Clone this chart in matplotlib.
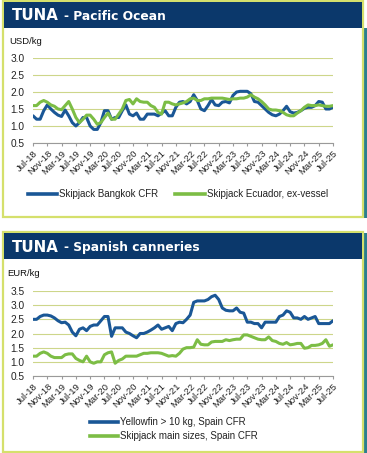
import matplotlib
matplotlib.use('Agg')

import matplotlib.pyplot as plt
from matplotlib.patches import Rectangle
import numpy as np

W, H = 367, 453

# monthly, Jul-18 .. Jul-25
tick_labels = ['Jul-18', 'Nov-18', 'Mar-19', 'Jul-19', 'Nov-19', 'Mar-20', 'Jul-20',
               'Nov-20', 'Mar-21', 'Jul-21', 'Nov-21', 'Mar-22', 'Jul-22', 'Nov-22',
               'Mar-23', 'Jul-23', 'Nov-23', 'Mar-24', 'Jul-24', 'Nov-24', 'Mar-25', 'Jul-25']

skj_bangkok = [1.30, 1.20, 1.20, 1.45, 1.62, 1.50, 1.40, 1.32, 1.28, 1.47, 1.30, 1.10,
               1.00, 1.10, 1.25, 1.25, 1.00, 0.90, 0.90, 1.10, 1.45, 1.45, 1.20, 1.25,
               1.25, 1.45, 1.62, 1.35, 1.30, 1.38, 1.20, 1.20, 1.35, 1.35, 1.35, 1.30,
               1.38, 1.45, 1.30, 1.30, 1.55, 1.70, 1.72, 1.65, 1.72, 1.92, 1.75, 1.50,
               1.45, 1.60, 1.78, 1.62, 1.60, 1.70, 1.72, 1.68, 1.90, 2.00, 2.02, 2.02,
               2.02, 1.95, 1.72, 1.70, 1.60, 1.50, 1.40, 1.33, 1.30, 1.35, 1.45, 1.58,
               1.42, 1.38, 1.40, 1.45, 1.52, 1.55, 1.55, 1.60, 1.72, 1.70, 1.50, 1.50,
               1.55]
skj_ecuador = [1.60, 1.60, 1.70, 1.75, 1.70, 1.62, 1.58, 1.50, 1.48, 1.60, 1.72, 1.50,
               1.25, 1.10, 1.20, 1.32, 1.32, 1.20, 1.05, 1.10, 1.25, 1.38, 1.20, 1.20,
               1.35, 1.50, 1.75, 1.78, 1.65, 1.80, 1.72, 1.70, 1.70, 1.60, 1.55, 1.40,
               1.35, 1.70, 1.70, 1.65, 1.62, 1.65, 1.68, 1.72, 1.80, 1.82, 1.75, 1.75,
               1.80, 1.80, 1.82, 1.82, 1.82, 1.82, 1.80, 1.78, 1.80, 1.80, 1.82, 1.82,
               1.85, 1.92, 1.85, 1.80, 1.72, 1.62, 1.50, 1.47, 1.47, 1.45, 1.40, 1.33,
               1.30, 1.30, 1.38, 1.45, 1.55, 1.62, 1.60, 1.60, 1.62, 1.60, 1.58, 1.58,
               1.60]

yft_spain = [2.50, 2.50, 2.60, 2.65, 2.65, 2.62, 2.55, 2.45, 2.38, 2.40, 2.30, 2.05,
             1.92, 2.15, 2.20, 2.10, 2.25, 2.30, 2.30, 2.45, 2.60, 2.60, 1.90, 2.20,
             2.20, 2.20, 2.05, 2.00, 1.92, 1.85, 2.00, 2.00, 2.05, 2.12, 2.20, 2.30,
             2.15, 2.20, 2.25, 2.10, 2.35, 2.40, 2.38, 2.50, 2.65, 3.10, 3.15, 3.15,
             3.15, 3.20, 3.30, 3.35, 3.20, 2.90, 2.82, 2.80, 2.80, 2.90, 2.75, 2.72,
             2.40, 2.40, 2.35, 2.35, 2.20, 2.40, 2.40, 2.40, 2.40, 2.60, 2.65, 2.80,
             2.75, 2.55, 2.55, 2.50, 2.60, 2.50, 2.55, 2.60, 2.35, 2.35, 2.35, 2.35,
             2.45]
skj_spain = [1.20, 1.20, 1.30, 1.35, 1.30, 1.20, 1.15, 1.15, 1.15, 1.25, 1.28, 1.28,
             1.12, 1.05, 1.00, 1.20, 1.00, 0.95, 1.00, 1.00, 1.25, 1.32, 1.35, 0.95,
             1.05, 1.10, 1.20, 1.20, 1.20, 1.20, 1.25, 1.30, 1.30, 1.32, 1.32, 1.32,
             1.30, 1.25, 1.20, 1.22, 1.20, 1.30, 1.45, 1.50, 1.50, 1.52, 1.78, 1.62,
             1.60, 1.60, 1.70, 1.72, 1.72, 1.72, 1.78, 1.75, 1.78, 1.80, 1.80, 1.95,
             1.95, 1.90, 1.85, 1.80, 1.78, 1.78, 1.88, 1.75, 1.72, 1.65, 1.62, 1.68,
             1.60, 1.62, 1.65, 1.65, 1.48, 1.50, 1.58, 1.58, 1.60, 1.65, 1.78, 1.55,
             1.60]

BLUE = '#1a5796'
GREEN = '#7cbd45'
NAVY = '#0b386b'
FRAME = '#d5e06c'
GRID = '#cdd68a'


def fx(x):
    return x / W


def fy(y):
    return 1 - y / H


def add_rect(fig, x0, y0, x1, y1, **kw):
    fig.patches.append(Rectangle((fx(x0), fy(y1)), fx(x1 - x0), (y1 - y0) / H,
                                 transform=fig.transFigure, zorder=-5, **kw))


def panel(fig, top, bottom, subtitle):
    add_rect(fig, 2.5, top, 362.5, bottom, facecolor='white', edgecolor=FRAME, lw=1.6)
    add_rect(fig, 3.5, top + 1, 361.5, top + 27, facecolor=NAVY, edgecolor='none')
    ty = fy(top + 15)
    fig.text(fx(12), ty, 'TUNA', color='white', fontsize=10.8, fontweight='bold',
             va='center', family='DejaVu Sans')
    fig.text(fx(64), ty, '- ' + subtitle, color='white', fontsize=8.8, fontweight='bold',
             va='center', family='DejaVu Sans')


def chart(fig, y_top, y_bot, ylo, yhi, s1, s2):
    ax = fig.add_axes([fx(33), fy(y_bot), fx(300), (y_bot - y_top) / H])
    x = np.arange(len(s1))
    ax.plot(x, s1, color=BLUE, lw=2.2, solid_capstyle='round')
    ax.plot(x, s2, color=GREEN, lw=2.2, solid_capstyle='round')
    ax.set_xlim(0, len(s1) - 1)
    ax.set_ylim(ylo, yhi)
    ax.set_yticks(np.arange(ylo, yhi + 0.01, 0.5))
    ax.set_yticklabels(['%.1f' % v for v in np.arange(ylo, yhi + 0.01, 0.5)])
    ax.set_xticks(np.arange(0, len(s1), 4))
    ax.set_xticklabels(tick_labels, rotation=45, ha='right', rotation_mode='anchor')
    ax.grid(axis='y', color=GRID, lw=0.8)
    ax.set_axisbelow(True)
    for s in ['top', 'right', 'left']:
        ax.spines[s].set_visible(False)
    ax.spines['bottom'].set_color('#9a9a9a')
    ax.spines['bottom'].set_linewidth(0.8)
    ax.tick_params(axis='y', length=0, pad=6, labelsize=7.3, labelcolor='#222222')
    ax.tick_params(axis='x', length=2.5, color='#9a9a9a', pad=1.5, labelsize=6.8,
                   labelcolor='#222222')
    for t in ax.get_yticklabels() + ax.get_xticklabels():
        t.set_family('Liberation Sans')
    ax.patch.set_alpha(0)
    return ax


fig = plt.figure(figsize=(W / 100, H / 100), dpi=100)
fig.patch.set_facecolor('white')

# teal strip on right edge
add_rect(fig, 364, 28, 367, 218, facecolor='#2b7f8e', edgecolor='none')
add_rect(fig, 364, 233, 367, 453, facecolor='#2b7f8e', edgecolor='none')

# ---- top panel ----
panel(fig, 1, 217, 'Pacific Ocean')
fig.text(fx(9), fy(42), 'USD/kg', fontsize=6.8, family='Liberation Sans', va='center',
         color='#111111')
ax1 = chart(fig, 58, 143, 0.5, 3.0, skj_bangkok, skj_ecuador)
fig.lines.append(plt.Line2D([fx(28), fx(57)], [fy(194), fy(194)], color=BLUE, lw=2.6,
                            transform=fig.transFigure))
fig.text(fx(59), fy(194), 'Skipjack Bangkok CFR', fontsize=7, family='Liberation Sans',
         va='center', color='#222222')
fig.lines.append(plt.Line2D([fx(175), fx(205)], [fy(194), fy(194)], color=GREEN, lw=2.6,
                            transform=fig.transFigure))
fig.text(fx(207), fy(194), 'Skipjack Ecuador, ex-vessel', fontsize=7,
         family='Liberation Sans', va='center', color='#222222')

# ---- bottom panel ----
panel(fig, 232, 452, 'Spanish canneries')
fig.text(fx(7), fy(273), 'EUR/kg', fontsize=6.8, family='Liberation Sans', va='center',
         color='#111111')
ax2 = chart(fig, 291, 376, 0.5, 3.5, yft_spain, skj_spain)
fig.lines.append(plt.Line2D([fx(90), fx(118)], [fy(422), fy(422)], color=BLUE, lw=2.6,
                            transform=fig.transFigure))
fig.text(fx(120), fy(422), 'Yellowfin > 10 kg, Spain CFR', fontsize=7,
         family='Liberation Sans', va='center', color='#222222')
fig.lines.append(plt.Line2D([fx(90), fx(118)], [fy(436), fy(436)], color=GREEN, lw=2.6,
                            transform=fig.transFigure))
fig.text(fx(120), fy(436), 'Skipjack main sizes, Spain CFR', fontsize=7,
         family='Liberation Sans', va='center', color='#222222')

plt.savefig('out.png', dpi=100)
